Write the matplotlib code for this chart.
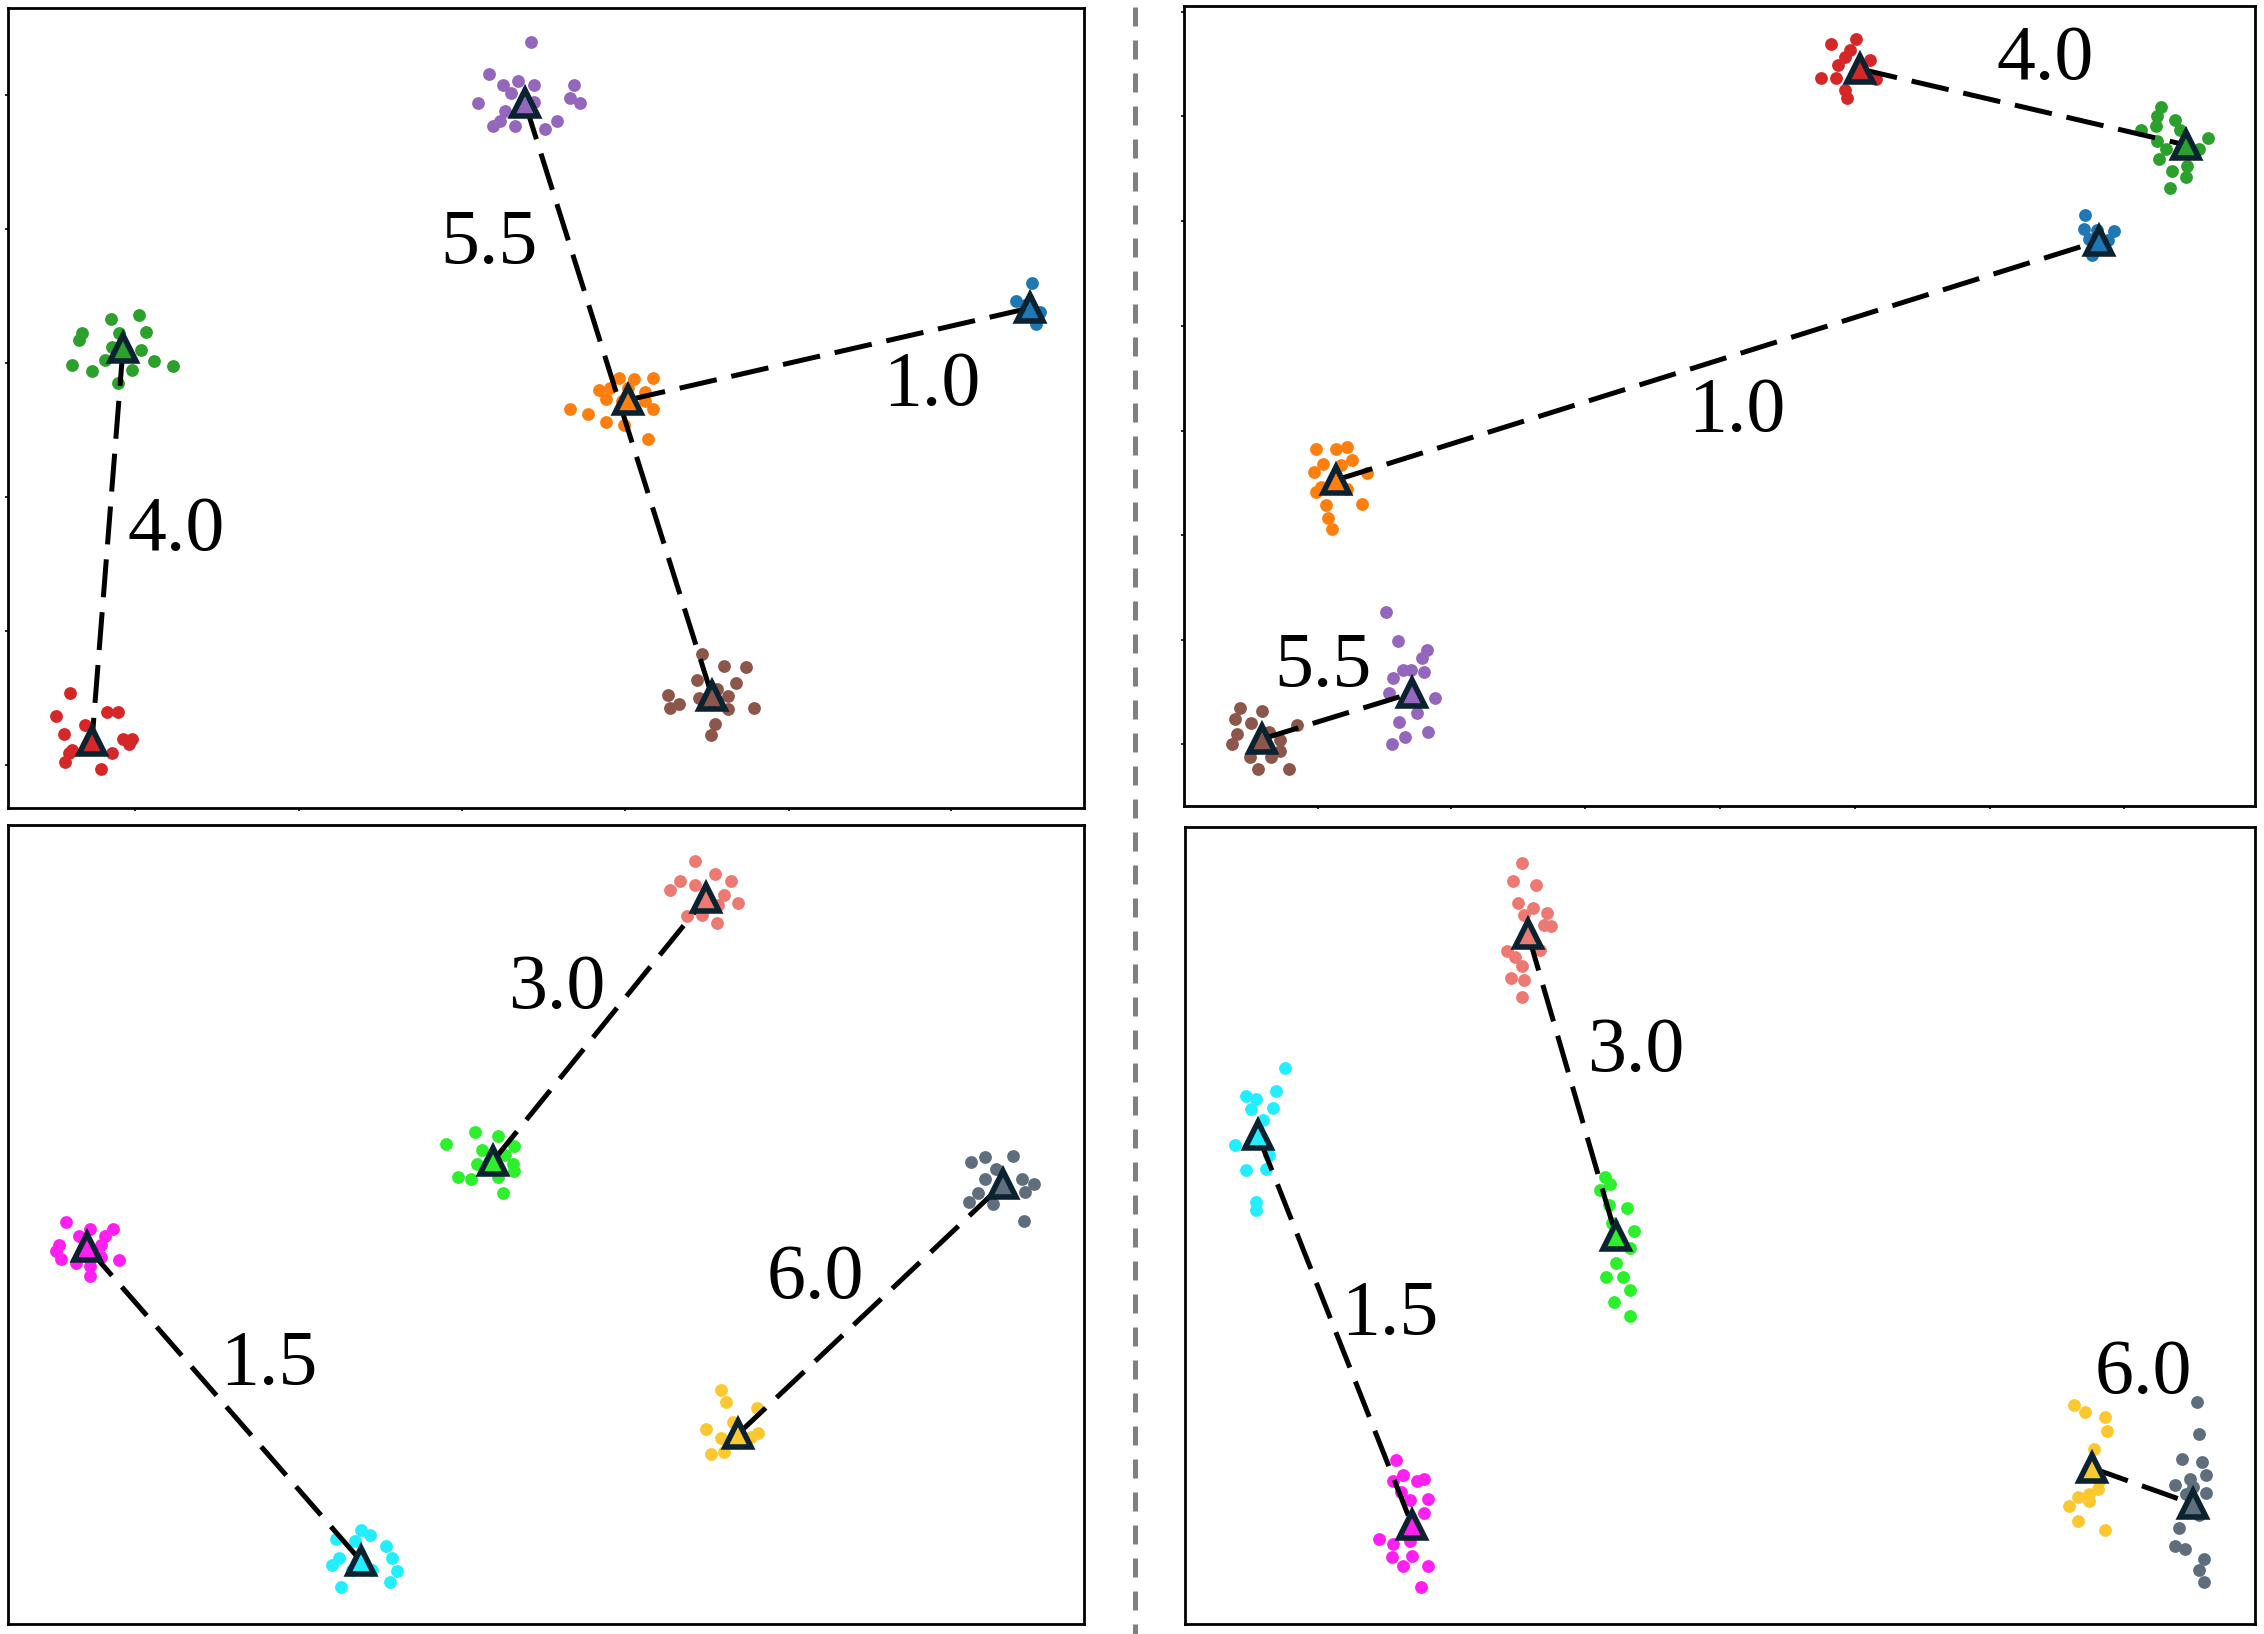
import matplotlib.pyplot as plt
from matplotlib.lines import Line2D

W, H = 2264, 1634  # output size in pixels, data is given in image pixels

# cluster colours
red = '#d62728'
green = '#2ca02c'
purple = '#9467bd'
orange = '#ff7f0e'
blue = '#1f77b4'
brown = '#8c564b'
salmon = '#ec7a72'
lime = '#2cf02c'
magenta = '#ff1ff0'
cyan = '#22eeff'
gold = '#fcc830'
slate = '#5f6e7c'
edge = '#0b2230'

# ---- top left panel ----
tl_red = [(70, 693), (56, 716), (107, 712), (118, 712), (64, 734), (85, 725), (123, 739), (132, 739),
          (72, 750), (69, 753), (112, 753), (129, 744), (65, 762), (101, 769)]
tl_red_c = (92, 741)
tl_green = [(111, 319), (139, 315), (82, 333), (79, 340), (119, 333), (146, 332), (112, 347), (141, 350),
            (72, 365), (92, 371), (105, 360), (132, 370), (154, 361), (173, 366), (118, 383)]
tl_green_c = (123, 348)
tl_purple = [(531, 42), (489, 74), (503, 85), (518, 81), (534, 85), (574, 85), (478, 103), (511, 93),
             (534, 102), (570, 98), (580, 103), (505, 111), (527, 109), (493, 126), (500, 121),
             (515, 126), (545, 129), (557, 121)]
tl_purple_c = (525, 103)
tl_orange = [(619, 378), (634, 379), (653, 378), (599, 390), (610, 388), (628, 388), (645, 392), (606, 399),
             (622, 401), (645, 401), (570, 409), (588, 414), (653, 409), (606, 422), (624, 425), (648, 439)]
tl_orange_c = (628, 400)
tl_blue = [(1032, 283), (1016, 301), (1025, 305), (1036, 324), (1040, 312)]
tl_blue_c = (1030, 308)
tl_brown = [(702, 654), (724, 666), (746, 667), (697, 680), (736, 683), (668, 695), (717, 689), (728, 696),
            (679, 704), (670, 708), (699, 698), (728, 709), (754, 708), (715, 724), (711, 735)]
tl_brown_c = (712, 696)
tl_labels = ['4.0', '5.5', '1.0']
tl_label_pos = [(176, 531), (489, 244), (932, 386)]

# ---- top right panel ----
tr_red = [(1831, 44), (1856, 39), (1850, 50), (1845, 57), (1838, 65), (1870, 60), (1821, 78), (1836, 78),
          (1854, 76), (1876, 79), (1845, 90), (1847, 98)]
tr_red_c = (1860, 69)
tr_green = [(2161, 107), (2141, 130), (2156, 126), (2175, 120), (2180, 130), (2208, 138), (2157, 141),
            (2199, 149), (2166, 149), (2159, 159), (2187, 166), (2172, 171), (2186, 177), (2170, 188),
            (2157, 116)]
tr_green_c = (2186, 145)
tr_blue = [(2085, 215), (2084, 229), (2097, 230), (2114, 231), (2089, 239), (2108, 240), (2092, 255)]
tr_blue_c = (2099, 241)
tr_orange = [(1316, 449), (1336, 449), (1347, 447), (1323, 464), (1341, 465), (1314, 472), (1352, 460),
             (1367, 473), (1321, 487), (1347, 489), (1316, 492), (1362, 504), (1326, 505), (1328, 518),
             (1332, 529)]
tr_orange_c = (1336, 480)
tr_purple = [(1386, 612), (1398, 641), (1427, 650), (1422, 658), (1403, 670), (1411, 670), (1393, 678),
             (1424, 672), (1389, 693), (1435, 698), (1417, 713), (1399, 722), (1428, 732), (1405, 737),
             (1392, 744)]
tr_purple_c = (1412, 693)
tr_brown = [(1240, 708), (1262, 711), (1235, 719), (1251, 723), (1297, 725), (1237, 734), (1269, 732),
            (1280, 740), (1232, 744), (1255, 748), (1280, 751), (1250, 757), (1271, 757), (1258, 769),
            (1289, 769)]
tr_brown_c = (1262, 739)
tr_labels = ['4.0', '1.0', '5.5']
tr_label_pos = [(2045, 60), (1737, 412), (1323, 667)]

# ---- bottom left panel ----
bl_salmon = [(695, 861), (680, 881), (695, 885), (715, 874), (731, 881), (670, 890), (724, 895), (738, 903),
             (718, 905), (687, 916), (702, 915), (717, 923)]
bl_salmon_c = (706, 898)
bl_lime = [(475, 1132), (498, 1136), (446, 1144), (514, 1146), (482, 1150), (505, 1155), (477, 1164),
           (513, 1164), (458, 1177), (471, 1179), (498, 1177), (514, 1171), (503, 1193)]
bl_lime_c = (493, 1161)
bl_magenta = [(66, 1222), (90, 1229), (113, 1229), (79, 1236), (105, 1236), (59, 1245), (101, 1245),
              (56, 1251), (85, 1256), (101, 1257), (119, 1260), (61, 1259), (76, 1263), (90, 1266), (90, 1276)]
bl_magenta_c = (87, 1247)
bl_cyan = [(361, 1530), (370, 1535), (336, 1539), (355, 1541), (386, 1546), (339, 1558), (332, 1565),
           (392, 1558), (352, 1570), (372, 1570), (397, 1571), (390, 1582), (341, 1587)]
bl_cyan_c = (361, 1561)
bl_gold = [(721, 1390), (726, 1402), (757, 1408), (706, 1429), (733, 1422), (758, 1433), (721, 1438),
           (751, 1437), (711, 1454), (724, 1452)]
bl_gold_c = (738, 1434)
bl_slate = [(971, 1162), (985, 1157), (996, 1169), (1013, 1156), (985, 1179), (1022, 1179), (1034, 1184),
            (978, 1193), (1025, 1192), (969, 1202), (993, 1204), (1024, 1221)]
bl_slate_c = (1003, 1184)
bl_labels = ['3.0', '1.5', '6.0']
bl_label_pos = [(557, 989), (269, 1365), (815, 1279)]

# ---- bottom right panel ----
br_salmon = [(1522, 863), (1513, 881), (1536, 885), (1518, 903), (1533, 908), (1524, 915), (1547, 913),
             (1544, 925), (1551, 926), (1507, 951), (1515, 957), (1540, 950), (1522, 966), (1511, 978),
             (1524, 980), (1522, 997)]
br_salmon_c = (1528, 934)
br_cyan = [(1285, 1068), (1246, 1096), (1256, 1099), (1276, 1091), (1273, 1108), (1251, 1109), (1263, 1120),
           (1235, 1145), (1253, 1143), (1269, 1155), (1246, 1170), (1266, 1169), (1256, 1202), (1256, 1210)]
br_cyan_c = (1258, 1135)
br_lime = [(1605, 1177), (1600, 1190), (1610, 1184), (1609, 1205), (1627, 1208), (1634, 1231), (1612, 1223),
           (1630, 1248), (1616, 1263), (1606, 1277), (1623, 1277), (1630, 1290), (1614, 1302), (1630, 1316)]
br_lime_c = (1616, 1236)
br_magenta = [(1396, 1460), (1403, 1475), (1393, 1481), (1417, 1481), (1424, 1479), (1401, 1492),
              (1428, 1499), (1410, 1500), (1424, 1513), (1379, 1539), (1393, 1544), (1410, 1541),
              (1392, 1557), (1412, 1556), (1403, 1566), (1428, 1566), (1421, 1587)]
br_magenta_c = (1412, 1525)
br_gold = [(2074, 1405), (2085, 1412), (2105, 1417), (2107, 1431), (2094, 1449), (2099, 1481), (2078, 1497),
           (2089, 1494), (2098, 1489), (2069, 1506), (2089, 1501), (2078, 1521), (2105, 1530)]
br_gold_c = (2092, 1468)
br_slate = [(2197, 1402), (2199, 1434), (2182, 1459), (2202, 1462), (2206, 1475), (2190, 1479), (2175, 1485),
            (2193, 1487), (2206, 1493), (2186, 1494), (2199, 1515), (2179, 1528), (2175, 1546), (2185, 1549),
            (2204, 1559), (2199, 1570), (2204, 1582)]
br_slate_c = (2193, 1504)
br_labels = ['3.0', '1.5', '6.0']
br_label_pos = [(1636, 1052), (1390, 1315), (2143, 1374)]

# tick positions (only the top panels show ticks)
tl_xticks = [135, 299, 462, 625, 789, 951]
tl_yticks = [95, 229, 363, 497, 631, 765]
tr_xticks = [1318, 1451, 1585, 1720, 1855, 1990, 2124]
tr_yticks = [12, 116, 221, 326, 431, 535, 640, 744]

plt.rcParams['font.family'] = ['Liberation Serif', 'DejaVu Serif']

fig = plt.figure(figsize=(W / 100, H / 100), dpi=100)


def panel(left, top, right, bottom, xt=(), yt=()):
    ax = fig.add_axes([left / W, 1 - bottom / H, (right - left) / W, (bottom - top) / H])
    ax.set_xlim(left, right)
    ax.set_ylim(bottom, top)
    ax.set_xticks(xt)
    ax.set_yticks(yt)
    ax.set_xticklabels([])
    ax.set_yticklabels([])
    ax.tick_params(length=2.5, width=1.2, direction='out')
    for s in ax.spines.values():
        s.set_linewidth(2.0)
    return ax


def cluster(ax, pts, col):
    ax.scatter([p[0] for p in pts], [p[1] for p in pts], s=85, color=col, linewidths=0, zorder=1)


def link(ax, a, b, ca, cb):
    ax.plot([a[0], b[0]], [a[1], b[1]], color='black', lw=3.6, dashes=(7.6, 3.0), zorder=2)
    for c, col in ((a, ca), (b, cb)):
        ax.plot(c[0], c[1], marker='^', ms=19, mfc=col, mec=edge, mew=4.0, zorder=3)


def labels(ax, txt, pos):
    for t, (x, y) in zip(txt, pos):
        ax.text(x, y, t, fontsize=56, ha='center', va='center', zorder=4)


ax = panel(8, 8, 1084, 808, tl_xticks, tl_yticks)
for pts, col in ((tl_red, red), (tl_green, green), (tl_purple, purple),
                 (tl_orange, orange), (tl_blue, blue), (tl_brown, brown)):
    cluster(ax, pts, col)
link(ax, tl_green_c, tl_red_c, green, red)
link(ax, tl_purple_c, tl_brown_c, purple, brown)
link(ax, tl_orange_c, tl_blue_c, orange, blue)
labels(ax, tl_labels, tl_label_pos)

ax = panel(1184, 6, 2255, 806, tr_xticks, tr_yticks)
for pts, col in ((tr_red, red), (tr_green, green), (tr_blue, blue),
                 (tr_orange, orange), (tr_purple, purple), (tr_brown, brown)):
    cluster(ax, pts, col)
link(ax, tr_red_c, tr_green_c, red, green)
link(ax, tr_orange_c, tr_blue_c, orange, blue)
link(ax, tr_brown_c, tr_purple_c, brown, purple)
labels(ax, tr_labels, tr_label_pos)

ax = panel(8, 825, 1084, 1624)
for pts, col in ((bl_salmon, salmon), (bl_lime, lime), (bl_magenta, magenta),
                 (bl_cyan, cyan), (bl_gold, gold), (bl_slate, slate)):
    cluster(ax, pts, col)
link(ax, bl_lime_c, bl_salmon_c, lime, salmon)
link(ax, bl_magenta_c, bl_cyan_c, magenta, cyan)
link(ax, bl_gold_c, bl_slate_c, gold, slate)
labels(ax, bl_labels, bl_label_pos)

ax = panel(1185, 827, 2255, 1624)
for pts, col in ((br_salmon, salmon), (br_cyan, cyan), (br_lime, lime),
                 (br_magenta, magenta), (br_gold, gold), (br_slate, slate)):
    cluster(ax, pts, col)
link(ax, br_salmon_c, br_lime_c, salmon, lime)
link(ax, br_cyan_c, br_magenta_c, cyan, magenta)
link(ax, br_gold_c, br_slate_c, gold, slate)
labels(ax, br_labels, br_label_pos)

# grey dashed divider between the two columns
fig.add_artist(Line2D([1135 / W, 1135 / W], [1 - 7 / H, 0], transform=fig.transFigure,
                      color='#808080', lw=3.6, dashes=(3.8, 2.8)))

fig.savefig('out.png', dpi=100)
